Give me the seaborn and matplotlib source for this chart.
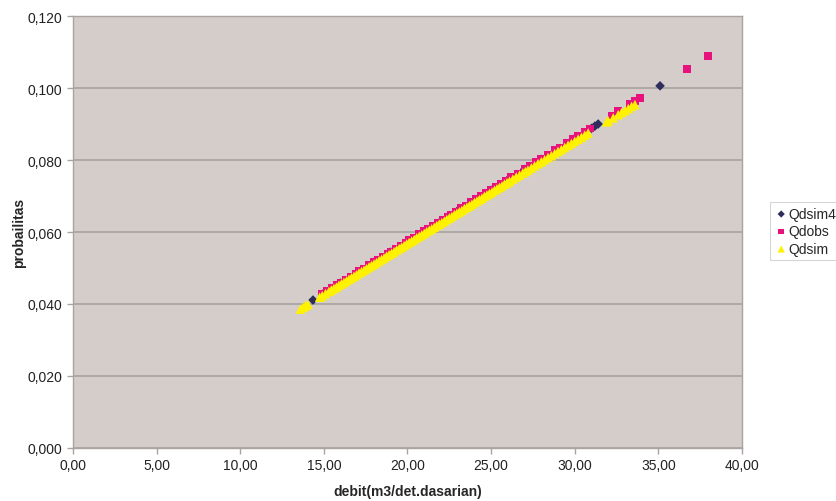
import numpy as np
import pandas as pd
import matplotlib
matplotlib.use('Agg')
import matplotlib.pyplot as plt
from matplotlib.ticker import FuncFormatter, MultipleLocator
import seaborn as sns

# data
qdsim4_x = [14.35, 15.0, 16.0, 17.0, 18.0, 19.0, 20.0, 21.0, 22.0, 23.0, 24.0,
            25.0, 26.0, 27.0, 28.0, 29.0, 30.0, 31.0, 31.2, 31.4, 35.1]
qdsim4_y = [0.0411, 0.0430, 0.0458, 0.0487, 0.0516, 0.0544, 0.0573, 0.0602, 0.0630,
            0.0659, 0.0688, 0.0716, 0.0745, 0.0774, 0.0802, 0.0831, 0.0860, 0.0888,
            0.0894, 0.0900, 0.1006]

qdobs_x = [14.9, 15.2, 15.5, 15.8, 16.0, 16.3, 16.6, 16.9, 17.1, 17.4, 17.7, 18.0,
           18.2, 18.5, 18.8, 19.0, 19.3, 19.6, 19.9, 20.1, 20.4, 20.7, 21.0, 21.2,
           21.5, 21.8, 22.1, 22.4, 22.6, 22.9, 23.2, 23.5, 23.8, 24.1, 24.4, 24.7,
           25.0, 25.3, 25.6, 25.9, 26.2, 26.6, 27.0, 27.3, 27.7, 28.0, 28.4, 28.8,
           29.1, 29.5, 29.9, 30.2, 30.6, 30.9, 32.2, 32.6, 33.3, 33.6,
           33.9, 36.7, 37.97]
qdobs_y = [0.0428, 0.0436, 0.0445, 0.0453, 0.0459, 0.0468, 0.0476, 0.0485, 0.0491,
           0.0499, 0.0508, 0.0517, 0.0522, 0.0531, 0.0540, 0.0545, 0.0554, 0.0563,
           0.0571, 0.0577, 0.0585, 0.0594, 0.0603, 0.0608, 0.0617, 0.0626, 0.0634,
           0.0643, 0.0649, 0.0657, 0.0666, 0.0674, 0.0683, 0.0692, 0.0700, 0.0709,
           0.0718, 0.0726, 0.0735, 0.0743, 0.0752, 0.0763, 0.0775, 0.0784, 0.0795,
           0.0804, 0.0815, 0.0827, 0.0835, 0.0847, 0.0858, 0.0867, 0.0878, 0.0887,
           0.0924, 0.0936, 0.0956, 0.0964, 0.0973, 0.1053, 0.1089]

qdsim_x = [13.6, 13.75, 13.9, 14.05, 14.75, 14.9, 15.1, 15.3, 15.45,
           15.6, 15.75, 15.9, 16.05, 16.2, 16.35, 16.5, 16.65, 16.8, 16.95, 17.1, 17.25,
           17.4, 17.55, 17.7, 17.85, 18.0, 18.15, 18.3, 18.45, 18.6, 18.75, 18.9, 19.05,
           19.2, 19.35, 19.5, 19.65, 19.8, 19.95, 20.1, 20.25, 20.4, 20.55, 20.7, 20.85,
           21.0, 21.15, 21.3, 21.45, 21.6, 21.75, 21.9, 22.05, 22.2, 22.35, 22.5, 22.65,
           22.8, 22.95, 23.1, 23.25, 23.4, 23.55, 23.7, 23.85, 24.0, 24.15, 24.3, 24.45,
           24.6, 24.75, 24.9, 25.05, 25.2, 25.35, 25.5, 25.65, 25.8, 25.95, 26.1, 26.3,
           26.5, 26.7, 26.9, 27.05, 27.2, 27.4, 27.6, 27.8, 28.0, 28.2, 28.4, 28.6,
           28.8, 29.0, 29.2, 29.4, 29.6, 29.8, 30.0, 30.2, 30.4, 30.6, 30.8, 31.9,
           32.0, 32.3, 32.6, 32.8, 33.0, 33.2, 33.4, 33.6]
qdsim_y = [0.0386, 0.0391, 0.0395, 0.0399, 0.0419, 0.0423,
           0.0429, 0.0435, 0.0439, 0.0443, 0.0447, 0.0452, 0.0456, 0.0460, 0.0464,
           0.0469, 0.0473, 0.0477, 0.0481, 0.0486, 0.0490, 0.0494, 0.0498, 0.0503,
           0.0507, 0.0511, 0.0515, 0.0520, 0.0524, 0.0528, 0.0533, 0.0537, 0.0541,
           0.0545, 0.0550, 0.0554, 0.0558, 0.0562, 0.0567, 0.0571, 0.0575, 0.0579,
           0.0584, 0.0588, 0.0592, 0.0596, 0.0601, 0.0605, 0.0609, 0.0613, 0.0618,
           0.0622, 0.0626, 0.0630, 0.0635, 0.0639, 0.0643, 0.0648, 0.0652, 0.0656,
           0.0660, 0.0665, 0.0669, 0.0673, 0.0677, 0.0682, 0.0686, 0.0690, 0.0694,
           0.0699, 0.0703, 0.0707, 0.0711, 0.0716, 0.0720, 0.0724, 0.0728, 0.0733,
           0.0737, 0.0741, 0.0747, 0.0753, 0.0758, 0.0764, 0.0768, 0.0772, 0.0778,
           0.0784, 0.0790, 0.0795, 0.0801, 0.0807, 0.0812, 0.0818, 0.0824, 0.0829,
           0.0835, 0.0841, 0.0846, 0.0852, 0.0858, 0.0863, 0.0869, 0.0875, 0.0906,
           0.0909, 0.0917, 0.0926, 0.0932, 0.0937, 0.0943, 0.0949, 0.0954]

sns.set_style('white')
plt.rcParams['font.family'] = ['Liberation Sans', 'DejaVu Sans']

fig = plt.figure(figsize=(8.37, 5.02), dpi=100)
ax = fig.add_axes([0.0872, 0.1056, 0.7993, 0.8605])
ax.set_facecolor('#d4cdca')
for s in ax.spines.values():
    s.set_color('#a9a4a2')
    s.set_linewidth(1)

ax.yaxis.grid(True, color='#a5a2a0', linewidth=1.2)
ax.set_axisbelow(True)

sns.scatterplot(x=qdsim4_x, y=qdsim4_y, ax=ax, marker='D', s=24, color='#2e2d5c',
                edgecolor='none', label='Qdsim4')
sns.scatterplot(x=qdobs_x, y=qdobs_y, ax=ax, marker='s', s=30, color='#e8127f',
                edgecolor='none', label='Qdobs')
sns.scatterplot(x=qdsim_x, y=qdsim_y, ax=ax, marker='^', s=48, color='#fff200',
                edgecolor='none', label='Qdsim')

ax.set_xlim(0, 40)
ax.set_ylim(0, 0.12)
ax.xaxis.set_major_locator(MultipleLocator(5))
ax.yaxis.set_major_locator(MultipleLocator(0.02))
ax.xaxis.set_major_formatter(FuncFormatter(lambda v, p: f'{v:.2f}'.replace('.', ',')))
ax.yaxis.set_major_formatter(FuncFormatter(lambda v, p: f'{v:.3f}'.replace('.', ',')))
ax.tick_params(axis='both', labelsize=10, colors='#222222', length=4, width=1,
               direction='out', bottom=True, left=True)
ax.tick_params(axis='both', color='#a9a4a2')

ax.set_xlabel('debit(m3/det.dasarian)', fontsize=10, fontweight='bold', labelpad=8)
ax.set_ylabel('probailitas', fontsize=10, fontweight='bold', labelpad=1.5)

leg = ax.legend(loc='center left', bbox_to_anchor=(1.042, 0.502), frameon=True,
                fontsize=10, handletextpad=0.1, borderpad=0.35, labelspacing=0.25,
                handlelength=0.9, fancybox=False, markerscale=0.75,
                borderaxespad=0)
leg.get_frame().set_edgecolor('#cccccc')
leg.get_frame().set_linewidth(0.8)

fig.savefig('out.png', dpi=100)
